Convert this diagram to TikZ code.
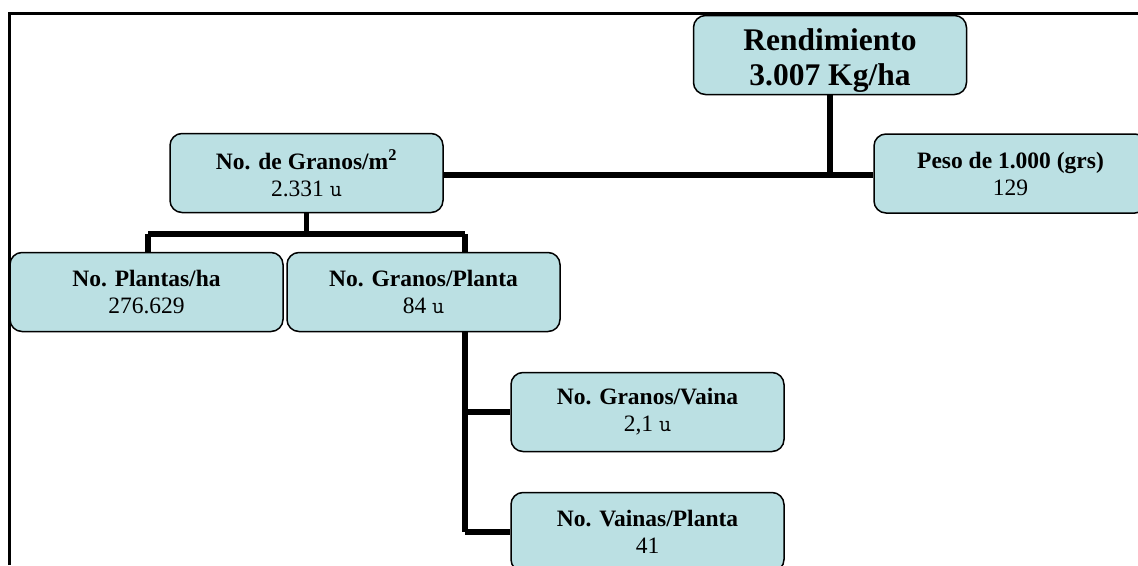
\documentclass[tikz,border=0pt]{standalone}
\usepackage{fontspec}
\setmainfont{Liberation Serif}
\definecolor{boxfill}{RGB}{187,224,227}
\begin{document}
\begin{tikzpicture}[x=1pt,y=-1pt,
  boxnode/.style={draw=black,line width=1.5pt,fill=boxfill,rounded corners=12pt,
    minimum width=273pt,minimum height=79pt,inner sep=0pt,align=center,
    font=\fontsize{23.5}{27}\selectfont},
  bignode/.style={boxnode,font=\fontsize{31.5}{35}\selectfont\bfseries},
  link/.style={line width=5.5pt},
  frameline/.style={line width=3pt}]
\useasboundingbox (0,0) rectangle (1138,565);
\clip (0,0) rectangle (1138,565);
% frame
\draw[frameline] (9.5,565) -- (9.5,13.5) -- (1140,13.5);
% boxes
\node[bignode] (R) at (830,55) {\rule{0pt}{32pt}Rendimiento\\3.007 Kg/ha};
\node[boxnode] (G2) at (306.5,173) {\textbf{No. de Granos/m\textsuperscript{2}}\\2.331 \texttt{u}};
\node[boxnode] (P) at (1010.5,173.5) {\textbf{Peso de 1.000 (grs)}\\129};
\node[boxnode] (PH) at (146.5,292) {\textbf{No. Plantas/ha}\\276.629};
\node[boxnode] (GP) at (423.5,292) {\textbf{No. Granos/Planta}\\84 \texttt{u}};
\node[boxnode] (GV) at (647.5,412) {\textbf{No. Granos/Vaina}\\2,1 \texttt{u}};
\node[boxnode] (VP) at (647.5,532) {\textbf{No. Vainas/Planta}\\41};
% connector coordinates
\coordinate (j1) at (830,175);
\coordinate (j2) at (306.5,234);
\coordinate (jl) at (148,234);
\coordinate (jr) at (465,234);
\coordinate (gpb) at (465,332);
\coordinate (gpv) at (465,412);
\coordinate (gpw) at (465,532);
% connectors
\draw[link] (R.south) -- (j1);
\draw[link] (G2.east |- j1) -- (P.west |- j1);
\draw[link] (G2.south) -- (j2);
\draw[link] (jl) -- (jr);
\draw[link] (jl) -- (jl |- PH.north);
\draw[link] (jr) -- (jr |- GP.north);
\draw[link] (gpb) -- (gpw);
\draw[link] (gpv) -- (GV.west);
\draw[link] (gpw) -- (VP.west);
\end{tikzpicture}
\end{document}
